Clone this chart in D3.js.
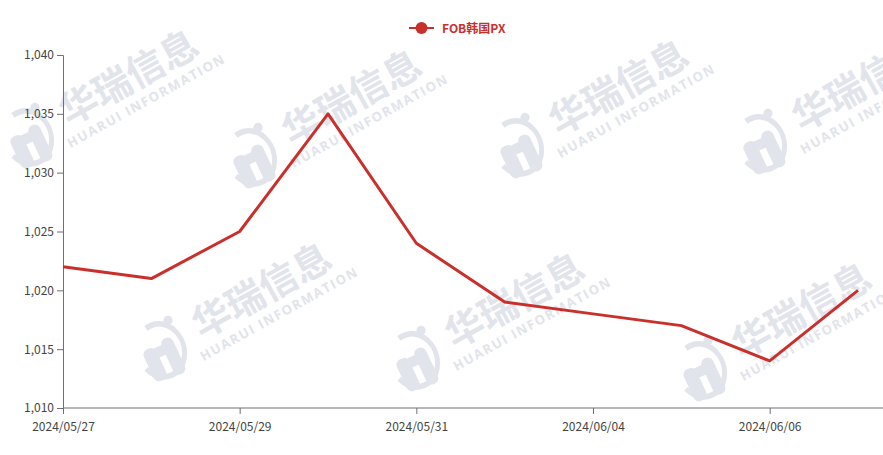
<!DOCTYPE html>
<html><head><meta charset="utf-8">
<script src="https://cdn.jsdelivr.net/npm/d3@7"></script>
<style>body{margin:0;background:#fff}svg{display:block}</style>
</head><body><svg id="c" width="883" height="455"></svg>
<script>
const categories = ["2024/05/27","2024/05/28","2024/05/29","2024/05/30","2024/05/31","2024/06/03","2024/06/04","2024/06/05","2024/06/06","2024/06/07"];
const values = [1022,1021,1025,1035,1024,1019,1018,1017,1014,1020];
const yTicks = [1010,1015,1020,1025,1030,1035,1040];
const seriesName = "FOB韩国PX";
const color = "#c9302c";

const svg = d3.select("#c");
const font = "'Noto Sans CJK SC','Microsoft YaHei',sans-serif";
const m = {l:63, r:858, t:55, b:408};

// watermarks
const wmColor = "#e2e4eb";
const wm = [[129,78],[352,98],[619,88],[862,84],[262,291],[515,301],[802,311]];
const wg = svg.append("g");
wm.forEach(([x,y])=>{
  const g = wg.append("g").attr("transform",`translate(${x},${y}) rotate(-29)`);
  g.append("text").attr("x",0).attr("y",13).attr("text-anchor","middle")
   .attr("font-family",font).attr("font-weight","bold").attr("font-size",38)
   .attr("fill",wmColor).text("华瑞信息");
  g.append("text").attr("x",4).attr("y",33).attr("text-anchor","middle")
   .attr("font-family","'Open Sans',sans-serif").attr("font-weight","bold").attr("font-size",13).attr("letter-spacing",1.6)
   .attr("fill",wmColor).text("HUARUI INFORMATION");
  const lgo = g.append("g").attr("transform","translate(-117,3) rotate(29) scale(1.15)");
  lgo.append("path").attr("d",d3.arc()({innerRadius:21,outerRadius:26,startAngle:-0.3,endAngle:Math.PI*1.35}))
    .attr("transform","rotate(-20) scale(0.85,1)").attr("fill",wmColor);
  lgo.append("circle").attr("cx",6).attr("cy",-26).attr("r",4).attr("fill",wmColor);
  lgo.append("rect").attr("x",-16).attr("y",-6).attr("width",12).attr("height",30).attr("rx",5)
    .attr("transform","rotate(-25)").attr("fill",wmColor);
  lgo.append("rect").attr("x",2).attr("y",-8).attr("width",11).attr("height",34).attr("rx",5)
    .attr("transform","rotate(-25)").attr("fill",wmColor);
  lgo.append("rect").attr("x",-8).attr("y",-4).attr("width",18).attr("height",9).attr("rx",4)
    .attr("transform","rotate(-25)").attr("fill",wmColor);
});

const x = d3.scalePoint().domain(categories).range([m.l,m.r]);
const y = d3.scaleLinear().domain([1010,1040]).range([m.b,m.t]);
const fmt = d3.format(",");

const ya = svg.append("g").attr("transform",`translate(${m.l},0)`)
  .call(d3.axisLeft(y).tickValues(yTicks).tickFormat(fmt).tickSize(6).tickPadding(3));
ya.select(".domain").attr("stroke","#6e7079");
ya.selectAll(".tick line").attr("stroke","#6e7079");
ya.selectAll("text").attr("font-family",font).attr("font-size",12).attr("fill","#444");

const xa = svg.append("g").attr("transform",`translate(0,${m.b})`)
  .call(d3.axisBottom(x).tickValues(categories.filter((d,i)=>i%2===0)).tickSize(6).tickPadding(8));
xa.select(".domain").attr("stroke","#6e7079").attr("d",`M${m.l},0H${m.r+25}`);
xa.selectAll(".tick line").attr("stroke","#6e7079");
xa.selectAll("text").attr("font-family",font).attr("font-size",12).attr("fill","#444");

const line = d3.line().x((d,i)=>x(categories[i])).y(d=>y(d));
svg.append("path").datum(values).attr("d",line).attr("fill","none")
  .attr("stroke",color).attr("stroke-width",3).attr("stroke-linejoin","round");

// legend
const lg = svg.append("g").attr("transform","translate(409,28)");
lg.append("line").attr("x1",0).attr("x2",25).attr("y1",0).attr("y2",0).attr("stroke",color).attr("stroke-width",2);
lg.append("circle").attr("cx",12.5).attr("cy",0).attr("r",6).attr("fill",color);
lg.append("text").attr("x",33).attr("y",5).attr("font-family",font).attr("font-weight","bold")
  .attr("font-size",12).attr("fill",color).text(seriesName);
</script></body></html>
